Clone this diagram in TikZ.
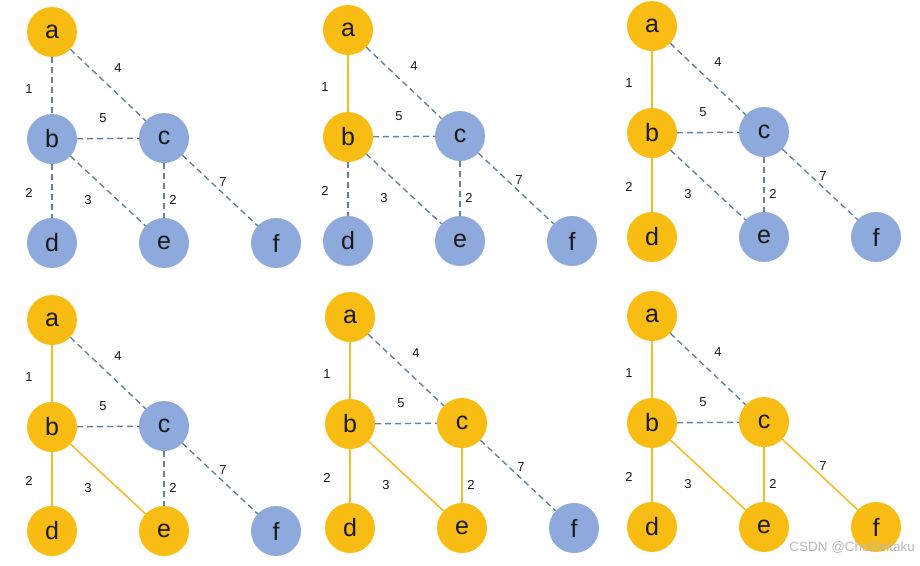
\documentclass[tikz,border=0pt]{standalone}
\usepackage{fontspec}
\setmainfont{Liberation Sans}
\definecolor{yelfill}{HTML}{F8BC12}
\definecolor{blufill}{HTML}{8EA9DB}
\definecolor{dashcol}{HTML}{6482A0}
\definecolor{solcol}{HTML}{F3BE2C}
\definecolor{txtcol}{HTML}{1A1A1A}
\definecolor{wmcol}{HTML}{B8B8B8}
\tikzset{
  vtx/.style={circle, minimum size=50pt, inner sep=0pt, text=txtcol,
    font=\fontsize{25}{25}\selectfont},
  yel/.style={fill=yelfill},
  blu/.style={fill=blufill},
  sol/.style={draw=solcol, line width=1.6pt},
  das/.style={draw=dashcol, line width=1.4pt, dash pattern=on 6pt off 4pt},
  wt/.style={text=txtcol, font=\fontsize{13}{13}\selectfont, inner sep=0pt},
}
\newcommand\pickn[3]{\ifnum#2>#3\relax\tikzset{#1/.style={yel}}\else\tikzset{#1/.style={blu}}\fi}
\newcommand\picke[3]{\ifnum#2>#3\relax\tikzset{#1/.style={sol}}\else\tikzset{#1/.style={das}}\fi}
% #1 prefix, #2 x, #3 y, #4 step
\newcommand\mypanel[4]{%
\begin{scope}[shift={(#2,#3)}]
  \pickn{nb}{#4}{1}\pickn{nd}{#4}{2}\pickn{ne}{#4}{3}\pickn{nc}{#4}{4}\pickn{nf}{#4}{5}%
  \picke{eab}{#4}{1}\picke{ebd}{#4}{2}\picke{ebe}{#4}{3}\picke{ece}{#4}{4}\picke{ecf}{#4}{5}%
  \node[vtx,yel] (#1a) at (0,0) {a};
  \node[vtx,nb] (#1b) at (0,107) {b};
  \node[vtx,nc] (#1c) at (112,106) {c};
  \node[vtx,nd] (#1d) at (0,211) {d};
  \node[vtx,ne] (#1e) at (112,211) {e};
  \node[vtx,nf] (#1f) at (224,211) {f};
  \draw[eab] (#1a) -- (#1b);
  \draw[das] (#1a) -- (#1c);
  \draw[das] (#1b) -- (#1c);
  \draw[ebd] (#1b) -- (#1d);
  \draw[ebe] (#1b) -- (#1e);
  \draw[ece] (#1c) -- (#1e);
  \draw[ecf] (#1c) -- (#1f);
  \node[wt] (#1w1) at (-23,57) {1};
  \node[wt] (#1w4) at (66,36) {4};
  \node[wt] (#1w5) at (51,86) {5};
  \node[wt] (#1w2a) at (-23,161) {2};
  \node[wt] (#1w3) at (36,168) {3};
  \node[wt] (#1w2b) at (121,168) {2};
  \node[wt] (#1w7) at (171,150) {7};
\end{scope}}
\begin{document}
\begin{tikzpicture}[x=1pt,y=-1pt]
\useasboundingbox (0,0) rectangle (920,565);
\fill[white] (0,0) rectangle (920,565);
\mypanel{p}{52}{32}{1}
\mypanel{q}{348}{30}{2}
\mypanel{r}{652}{26}{3}
\mypanel{s}{52}{320}{4}
\mypanel{t}{350}{317}{5}
\mypanel{u}{652}{316}{6}
\node[anchor=east, text=wmcol, font=\fontsize{13.5}{13.5}\selectfont, inner sep=0pt] (wm) at (915,548) {CSDN @ChoSeitaku};
\end{tikzpicture}
\end{document}
